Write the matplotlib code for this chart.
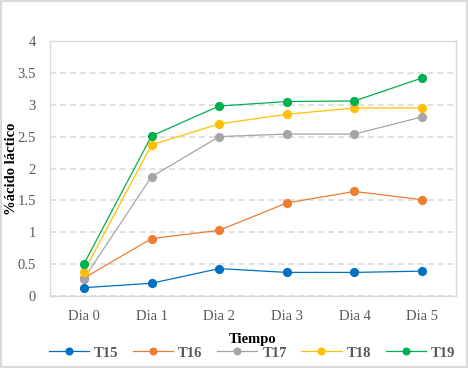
import matplotlib
matplotlib.use("Agg")
import matplotlib.pyplot as plt
from matplotlib.patches import Rectangle

# datos
dias = ["Dia 0", "Dia 1", "Dia 2", "Dia 3", "Dia 4", "Dia 5"]
t15 = [0.13, 0.20, 0.43, 0.37, 0.37, 0.39]
t16 = [0.28, 0.90, 1.03, 1.46, 1.64, 1.51]
t17 = [0.27, 1.87, 2.50, 2.54, 2.54, 2.81]
t18 = [0.38, 2.37, 2.70, 2.85, 2.95, 2.95]
t19 = [0.50, 2.51, 2.98, 3.05, 3.06, 3.42]
series = [("T15", t15, "#0070C0"), ("T16", t16, "#ED7D31"),
          ("T17", t17, "#A5A5A5"), ("T18", t18, "#FFC000"),
          ("T19", t19, "#00B050")]

plt.rcParams['font.family'] = ['Liberation Serif', 'DejaVu Serif']

fig = plt.figure(figsize=(4.68, 3.68), dpi=100)
W, H = 468, 368
ax = fig.add_axes([50 / W, 1 - 296 / H, 406 / W, 255 / H])

x = list(range(len(dias)))
for nombre, vals, col in series:
    ax.plot(x, vals, color=col, lw=0.9, marker='o', ms=5.6, label=nombre)

ax.set_xlim(-0.5, len(dias) - 0.5)
ax.set_ylim(0, 4)
ax.set_yticks([0, 0.5, 1, 1.5, 2, 2.5, 3, 3.5, 4])
ax.set_yticklabels(["0", "0.5", "1", "1.5", "2", "2.5", "3", "3.5", "4"])
ax.set_xticks(x)
ax.set_xticklabels(dias)
ax.tick_params(length=0, labelsize=10.5, labelcolor='#595959')
ax.tick_params(axis='x', pad=10)
ax.tick_params(axis='y', pad=10)
ax.grid(axis='y', color='#D9D9D9', ls=(0, (4, 2.5)), lw=1.1)
ax.set_axisbelow(True)
for s in ax.spines.values():
    s.set_color('#D9D9D9')
    s.set_linewidth(1)

ax.set_xlabel("Tiempo", fontsize=10.5, fontweight='bold')
ax.xaxis.set_label_coords(0.5, -(339 - 296) / 255, transform=ax.transAxes)
ax.xaxis.label.set_va('center')
ax.set_ylabel("%ácido láctico", fontsize=10.5, fontweight='bold')
ax.yaxis.set_label_coords(-(50 - 12) / 406, 0.5)
ax.yaxis.label.set_va('center')

leg = fig.legend(loc='center', bbox_to_anchor=(252 / W, 1 - 353 / H), ncol=5,
                 frameon=False, handlelength=2.75, columnspacing=1.0,
                 handletextpad=0.35, markerscale=0.85,
                 prop={'weight': 'bold', 'size': 10.5})
for t in leg.get_texts():
    t.set_color('#595959')

# borde exterior
fig.patches.append(Rectangle((0.002, 0.003), 0.995, 0.994, transform=fig.transFigure,
                             fill=False, edgecolor='#D9D9D9', lw=1.5))

fig.savefig("out.png", dpi=100)
